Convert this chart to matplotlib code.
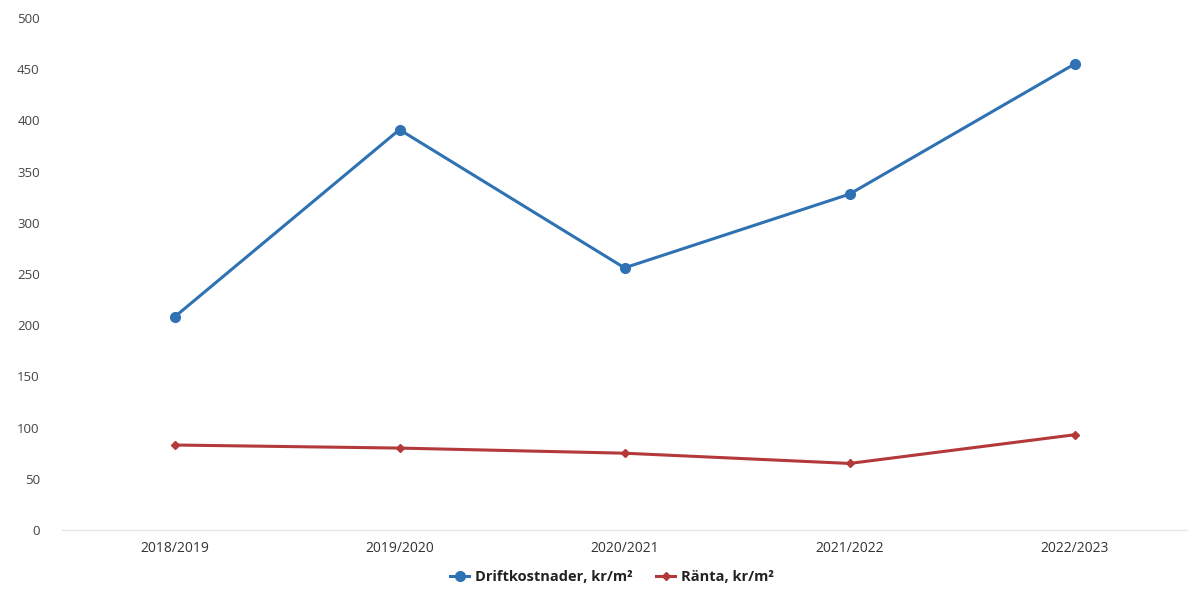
import matplotlib
matplotlib.use("Agg")
import matplotlib.pyplot as plt

categories = ["2018/2019", "2019/2020", "2020/2021", "2021/2022", "2022/2023"]
drift = [208, 391, 256, 328, 455]
ranta = [83, 80, 75, 65, 93]
yticks = [0, 50, 100, 150, 200, 250, 300, 350, 400, 450, 500]

plt.rcParams['font.family'] = ['Open Sans', 'DejaVu Sans']

blue = "#2f72b3"
red = "#b3393b"

fig = plt.figure(figsize=(11.92, 5.90), dpi=100)
ax = fig.add_axes([62/1192, 1 - 530/590, (1187 - 62)/1192, (530 - 18)/590])

x = list(range(len(categories)))
ax.plot(x, drift, color=blue, lw=2.2, marker='o', ms=7, label="Driftkostnader, kr/m²", zorder=3)
ax.plot(x, ranta, color=red, lw=2.2, marker='D', ms=4.5, label="Ränta, kr/m²", zorder=3)

ax.set_xlim(-0.5, 4.5)
ax.set_ylim(0, 500)
ax.set_yticks(yticks)
ax.set_yticklabels([str(v) for v in yticks])
ax.set_xticks(x)
ax.set_xticklabels(categories)

for s in ["top", "right", "left"]:
    ax.spines[s].set_visible(False)
ax.spines["bottom"].set_color("#e6e6e6")
ax.spines["bottom"].set_linewidth(1)
ax.tick_params(axis='y', length=0, pad=16, labelsize=9.5, labelcolor="#444444")
ax.tick_params(axis='x', length=0, pad=8, labelsize=10, labelcolor="#333333")

fig.legend(loc='center', bbox_to_anchor=(612/1192, 1 - 577/590), ncol=2, frameon=False,
           prop={'weight': 'bold', 'size': 10.5}, handlelength=1.3, columnspacing=1.6,
           handletextpad=0.4, labelcolor="#222222")

fig.savefig("out.png", dpi=100, facecolor="white")
